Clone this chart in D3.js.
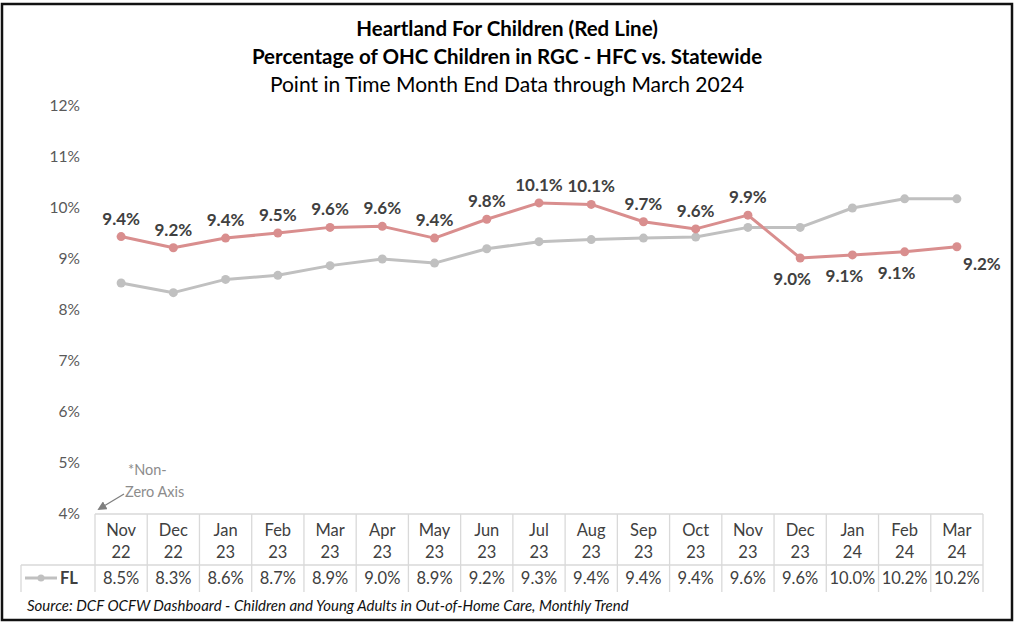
<!DOCTYPE html>
<html><head><meta charset="utf-8">
<script src="https://cdn.jsdelivr.net/npm/d3@7"></script>
<style>body{margin:0;background:#fff}svg{display:block}</style>
</head><body>
<svg id="c" width="1017" height="628"></svg>
<script>
const months = ["Nov","Dec","Jan","Feb","Mar","Apr","May","Jun","Jul","Aug","Sep","Oct","Nov","Dec","Jan","Feb","Mar"];
const years  = ["22","22","23","23","23","23","23","23","23","23","23","23","23","23","24","24","24"];
const hfc = [9.44,9.22,9.41,9.51,9.62,9.64,9.41,9.78,10.10,10.07,9.73,9.59,9.86,9.02,9.08,9.14,9.24];
const fl  = [8.53,8.34,8.60,8.68,8.87,9.00,8.92,9.20,9.34,9.38,9.41,9.43,9.62,9.62,10.00,10.18,10.18];
const yTicks = [4,5,6,7,8,9,10,11,12];
const titleLines = ["Heartland For Children (Red Line)","Percentage of OHC Children in RGC - HFC vs. Statewide","Point in Time Month End Data through March 2024"];
const labelBelowFrom = 13;

const svg = d3.select("#c");
const F = "Lato, 'Open Sans', sans-serif";
const red = "#d98e8e", gray = "#c0c0c0", txt = "#404040", grid = "#d9d9d9";

svg.append("rect").attr("x",2).attr("y",4).attr("width",1010).attr("height",616)
  .attr("fill","#fff").attr("stroke","#111").attr("stroke-width",2.5);

const x0 = 95, x1 = 983, yTop = 106, yBot = 514;
const x = d3.scaleBand().domain(d3.range(months.length)).range([x0,x1]);
const y = d3.scaleLinear().domain([4,12]).range([yBot,yTop]);
const cx = i => x(i) + x.bandwidth()/2;

// titles
svg.selectAll("text.title").data(titleLines).join("text")
  .attr("x",507).attr("y",(d,i)=>36+i*28).attr("text-anchor","middle")
  .attr("font-family",F).attr("font-size",(d,i)=>i<2?20.5:21).attr("font-weight",(d,i)=>i<2?"bold":"normal")
  .attr("fill","#000").text(d=>d);

// y axis labels
const yAxis = d3.axisLeft(y).tickValues(yTicks).tickFormat(d=>d+"%").tickSize(0).tickPadding(0);
const ga = svg.append("g").attr("transform","translate(80,0)").call(yAxis);
ga.select(".domain").remove();
ga.selectAll("text").attr("font-family",F).attr("font-size",15.5).attr("fill","#595959").attr("dy","0.32em");

// table grid
const tg = svg.append("g").attr("stroke",grid).attr("stroke-width",1.3).attr("fill","none");
tg.append("line").attr("x1",x0).attr("x2",x1).attr("y1",yBot).attr("y2",yBot);
tg.append("line").attr("x1",21).attr("x2",x1).attr("y1",565).attr("y2",565);
const bounds = d3.range(months.length+1).map(i=> i<months.length? x(i) : x1);
tg.selectAll("line.v").data(bounds).join("line").attr("class","v")
  .attr("x1",d=>d).attr("x2",d=>d).attr("y1",yBot).attr("y2",592);
tg.append("line").attr("x1",21).attr("x2",21).attr("y1",565).attr("y2",592);

// category labels
const cat = svg.append("g").attr("font-family",F).attr("font-size",16.5).attr("fill",txt).attr("text-anchor","middle");
cat.selectAll("text.m").data(months).join("text").attr("class","m").attr("x",(d,i)=>cx(i)).attr("y",536).text(d=>d);
cat.selectAll("text.yr").data(years).join("text").attr("class","yr").attr("x",(d,i)=>cx(i)).attr("y",558).text(d=>d);
cat.selectAll("text.fl").data(fl).join("text").attr("class","fl").attr("x",(d,i)=>cx(i)).attr("y",584).text(d=>d.toFixed(1)+"%");

// legend key in table
svg.append("line").attr("x1",25).attr("x2",57).attr("y1",578).attr("y2",578).attr("stroke",gray).attr("stroke-width",3);
svg.append("circle").attr("cx",41).attr("cy",578).attr("r",3.5).attr("fill",gray);
svg.append("text").attr("x",60).attr("y",584).attr("font-family",F).attr("font-size",16.5).attr("font-weight","bold").attr("fill",txt).text("FL");

// lines
const line = d3.line().x((d,i)=>cx(i)).y(d=>y(d));
function series(data,color){
  svg.append("path").datum(data).attr("d",line).attr("fill","none").attr("stroke",color).attr("stroke-width",3).attr("stroke-linejoin","round");
  svg.append("g").selectAll("circle").data(data).join("circle")
    .attr("cx",(d,i)=>cx(i)).attr("cy",d=>y(d)).attr("r",4.5).attr("fill",color);
}
series(fl,gray);
series(hfc,red);

// data labels
svg.append("g").selectAll("text").data(hfc).join("text")
  .attr("x",(d,i)=> i===hfc.length-1 ? cx(i)+25 : (i>=labelBelowFrom ? cx(i)-8 : cx(i)))
  .attr("y",(d,i)=> i>=labelBelowFrom ? y(d)+ (i===hfc.length-1?23:27) : y(d)-12)
  .attr("text-anchor","middle").attr("font-family",F).attr("font-size",17).attr("font-weight","bold")
  .attr("fill",txt).text(d=>d.toFixed(1)+"%");

// annotation
const an = svg.append("g").attr("font-family",F).attr("font-size",14.5).attr("fill","#8c8c8c");
an.append("text").attr("x",128).attr("y",475).text("*Non-");
an.append("text").attr("x",125).attr("y",497).text("Zero Axis");
svg.append("defs").append("marker").attr("id","ah").attr("viewBox","0 0 10 10").attr("refX",8).attr("refY",5)
  .attr("markerWidth",7).attr("markerHeight",7).attr("orient","auto")
  .append("path").attr("d","M0,0L10,5L0,10z").attr("fill","#7f7f7f");
svg.append("line").attr("x1",124).attr("y1",494).attr("x2",99).attr("y2",509)
  .attr("stroke","#7f7f7f").attr("stroke-width",1.3).attr("marker-end","url(#ah)");

// source
svg.append("text").attr("x",27).attr("y",611).attr("font-family",F).attr("font-size",15).attr("font-style","italic")
  .attr("fill","#111").text("Source: DCF OCFW Dashboard - Children and Young Adults in Out-of-Home Care, Monthly Trend");
</script>
</body></html>
